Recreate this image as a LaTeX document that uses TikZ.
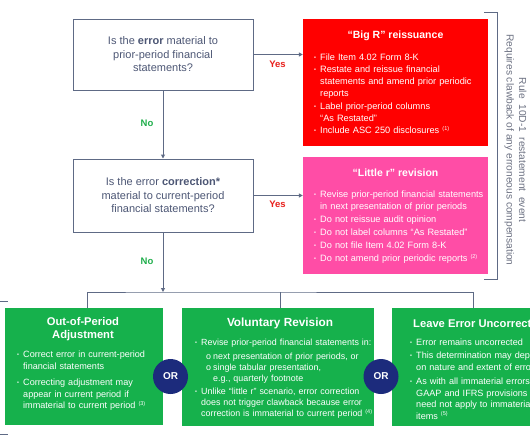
\documentclass[tikz,border=0pt]{standalone}
\usepackage{fontspec}
\setmainfont{Liberation Sans}
\usetikzlibrary{arrows.meta}
\definecolor{ln}{HTML}{5E6A85}
\definecolor{qtext}{HTML}{4D5775}
\definecolor{bigred}{HTML}{FF0000}
\definecolor{pinkc}{HTML}{FF4DA6}
\definecolor{greenc}{HTML}{16B14C}
\definecolor{navyc}{HTML}{1C2B7C}
\definecolor{notext}{HTML}{1FAE4B}
\definecolor{yestext}{HTML}{E8201C}
\definecolor{sidetext}{HTML}{6E7384}
\newcommand\bdot{\raisebox{0.2ex}{\fontsize{5.5}{6}\selectfont •}}
\newcommand\bitem[2][0pt]{\par\vspace{#1}\hangindent=6pt\hangafter=1\noindent\makebox[6pt][l]{\bdot}#2}
\newcommand\sitem[2][0pt]{\par\vspace{#1}\hangindent=18pt\hangafter=1\noindent\hspace*{11pt}\makebox[7pt][l]{o}#2}
\newcommand\fnm[1]{\raisebox{0.7ex}{\fontsize{5.5}{6}\selectfont #1}}
\tikzset{
  conn/.style={draw=ln, line width=1pt, -{Triangle[length=4pt,width=4pt]}},
  plain/.style={draw=ln, line width=1pt},
  qbox/.style={draw=ln, line width=1pt, fill=white, minimum width=180pt, align=center,
    text=qtext, font=\fontsize{11}{13.5}\selectfont},
  cbox/.style={inner sep=0pt, draw=none},
  ttl/.style={text=white, font=\bfseries\fontsize{10.5}{13}\selectfont, inner sep=0pt, align=center},
  gttl/.style={text=white, font=\bfseries\fontsize{11.2}{13}\selectfont, inner sep=0pt, align=center},
  blist/.style={anchor=north west, inner sep=0pt, text=white, align=left},
  ornode/.style={circle, fill=navyc, minimum size=35pt, inner sep=0pt, text=white,
    font=\bfseries\fontsize{10}{12}\selectfont},
  nolab/.style={text=notext, font=\bfseries\fontsize{9.5}{11}\selectfont, inner sep=0pt},
  yeslab/.style={text=yestext, font=\bfseries\fontsize{9.5}{11}\selectfont, inner sep=0pt},
}
\begin{document}
\begin{tikzpicture}[x=1pt,y=-1pt]
\clip (0,0) rectangle (530,442);
\fill[white] (0,0) rectangle (530,442);

% question boxes
\node[qbox, minimum height=71pt] (q1) at (163,54.5) {Is the \textbf{error} material to\\prior-period financial\\statements?};
\node[qbox, minimum height=73pt] (q2) at (163,195.5) {Is the error \textbf{correction*}\\material to current-period\\financial statements?};

% red box
\node[cbox, fill=bigred, minimum width=185pt, minimum height=127pt] (big) at (395.5,82.5) {};
\node[ttl] (bigt) at (395.5,36) {“Big R” reissuance};
\node[blist, text width=172pt, font=\fontsize{9.2}{12.3}\selectfont] (bigl) at (314,47.5) {%
\bitem{File Item 4.02 Form 8-K}
\bitem{Restate and reissue financial\newline statements and amend prior periodic\newline reports}
\bitem{Label prior-period columns\newline “As Restated”}
\bitem{Include ASC 250 disclosures \fnm{(1)}}\par};

% pink box
\node[cbox, fill=pinkc, minimum width=185pt, minimum height=117pt] (little) at (395.5,215.5) {};
\node[ttl] (littlet) at (395.5,173) {“Little r” revision};
\node[blist, text width=172pt, font=\fontsize{9.2}{12.3}\selectfont] (littlel) at (314,185) {%
\bitem{Revise prior-period financial statements\newline in next presentation of prior periods}
\bitem[0.6pt]{Do not reissue audit opinion}
\bitem[0.6pt]{Do not label columns “As Restated”}
\bitem[0.6pt]{Do not file Item 4.02 Form 8-K}
\bitem[0.6pt]{Do not amend prior periodic reports \fnm{(2)}}\par};

% green boxes
\node[cbox, fill=greenc, minimum width=158pt, minimum height=117pt] (lg) at (84,366.5) {};
\node[cbox, fill=greenc, minimum width=192pt, minimum height=118pt] (mg) at (278,367) {};
\node[cbox, fill=greenc, minimum width=162pt, minimum height=118pt] (rg) at (473,367) {};

\node[gttl] (lgt) at (83,329.5) {Out-of-Period\\Adjustment};
\node[blist, text width=142pt, font=\fontsize{9.1}{11.3}\selectfont] (lgl) at (17,346.2) {%
\bitem{Correct error in current-period\newline financial statements}
\bitem[5.6pt]{Correcting adjustment may\newline appear in current period if\newline immaterial to current period \fnm{(3)}}\par};

\node[gttl, font=\bfseries\fontsize{11.8}{13}\selectfont] (mgt) at (280,323) {Voluntary Revision};
\node[blist, text width=178pt, font=\fontsize{8.9}{11.1}\selectfont] (mgl) at (195,334.2) {%
\bitem{Revise prior-period financial statements in:}
\sitem[2.8pt]{next presentation of prior periods, or}
\sitem{single tabular presentation,\newline e.g., quarterly footnote}
\bitem[2pt]{Unlike “little r” scenario, error correction\newline does not trigger clawback because error\newline correction is immaterial to current period \fnm{(4)}}\par};

\node[gttl, anchor=west] (rgt) at (413,323) {Leave Error Uncorrected};
\node[blist, text width=200pt, font=\fontsize{9.1}{11.6}\selectfont] (rgl) at (410,333.2) {%
\bitem{Error remains uncorrected}
\bitem[2.3pt]{This determination may depend\newline on nature and extent of errors}
\bitem[2.3pt]{As with all immaterial errors,\newline GAAP and IFRS provisions\newline need not apply to immaterial\newline items \fnm{(5)}}\par};

% OR circles
\node[ornode] (or1) at (170.5,376.5) {OR};
\node[ornode] (or2) at (381,376.5) {OR};

% connectors
\draw[conn] (q1) -- (q2);
\draw[conn] (q1.east) -- (q1.east -| big.west);
\draw[conn] (q2.east) -- (q2.east -| little.west);
\coordinate (bus) at (163,292);
\coordinate (lgtop) at ([xshift=3pt]lg.north);
\coordinate (mgtop) at ([xshift=2pt]mg.north);
\draw[conn] (q2) -- (bus);
\draw[plain] (lgtop) |- (bus) -| (rg.north);
\draw[plain] (mgtop) -- (mgtop |- bus);

% labels
\node[nolab] (no1) at (147,123) {No};
\node[nolab] (no2) at (147,261) {No};
\node[yeslab] (yes1) at (277.5,64) {Yes};
\node[yeslab] (yes2) at (277.5,204) {Yes};

% right bracket
\coordinate (brt) at (484,12);
\coordinate (brb) at (484,279);
\draw[plain] (brt) -- ++(13,0) |- (brb);
\node[rotate=-90, align=center, text=sidetext, font=\fontsize{10.2}{12.5}\selectfont, inner sep=0pt] (side) at (515.5,150) {Rule \ 10D-1 \ restatement \ event\\Requires clawback of any erroneous compensation};

% left bracket ticks
\coordinate (lbt) at (0,301);
\coordinate (lbb) at (0,434);
\draw[plain] (lbt) -- ++(8,0);
\draw[plain] (lbb) -- ++(8,0);
\end{tikzpicture}
\end{document}
